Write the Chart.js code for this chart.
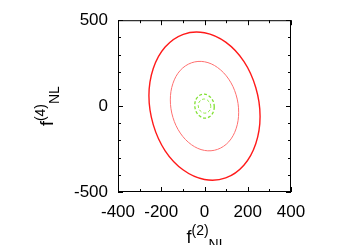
<!DOCTYPE html>
<html>
<head>
<meta charset="utf-8">
<script src="https://cdn.jsdelivr.net/npm/chart.js@4.4.0/dist/chart.umd.min.js"></script>
<style>
    html, body { margin: 0; padding: 0; background: #fff; }
</style>
</head>
<body>
<canvas id="contornos" width="350" height="245"></canvas>
<script>
// contornos: x = f(2)NL, y = f(4)NL
var externoX = [257, 237, 182, 98, 0, -98, -182, -237, -257, -237, -182, -98, 0, 98, 182, 237];
var externoY = [-60, 108, 260, 372, 427, 418, 344, 219, 60, -108, -260, -372, -427, -418, -344, -219];

var internoX = [158, 146, 112, 60, 0, -60, -112, -146, -158, -146, -112, -60, 0, 60, 112, 146];
var internoY = [-36, 66, 157, 225, 258, 252, 208, 132, 36, -66, -157, -225, -258, -252, -208, -132];

var verdeExtX = [45, 39, 22, 0, -22, -39, -45, -39, -22, 0, 22, 39];
var verdeExtY = [-5, 31, 58, 70, 63, 39, 5, -31, -58, -70, -63, -39];

var verdeIntX = [29, 25, 14, 0, -14, -25, -29, -25, -14, 0, 14, 25];
var verdeIntY = [-3, 18, 34, 41, 37, 23, 3, -18, -34, -41, -37, -23];

var ticksX = [-400, -200, 0, 200, 400];
var ticksY = [-500, 0, 500];

var fonte = '"Liberation Sans", Arial, sans-serif';

function pontos(xs, ys) {
    var p = [];
    for (var i = 0; i < xs.length; i++) {
        p.push({x: xs[i], y: ys[i]});
    }
    return p;
}

// fecha as curvas (como no radar) e desenha moldura, ticks internos e titulos
var molduraPlugin = {
    id: 'moldura',
    afterDatasetUpdate: function (chart, args) {
        var linha = args.meta.dataset;
        if (linha) {
            linha._loop = true;
            linha._fullLoop = true;
            delete linha._segments;
        }
    },
    afterDraw: function (chart) {
        var ctx = chart.ctx;
        var a = chart.chartArea;
        var sx = chart.scales.x, sy = chart.scales.y;
        ctx.save();
        ctx.strokeStyle = '#000';
        ctx.lineWidth = 1;
        ctx.strokeRect(a.left + 0.5, a.top + 0.5, a.right - a.left - 1, a.bottom - a.top - 1);

        ctx.beginPath();
        sx.ticks.forEach(function (t) {
            var px = Math.round(sx.getPixelForValue(t.value)) + 0.5;
            var len = ticksX.indexOf(t.value) >= 0 ? 5 : 3;
            ctx.moveTo(px, a.bottom); ctx.lineTo(px, a.bottom - len);
            ctx.moveTo(px, a.top); ctx.lineTo(px, a.top + len);
        });
        sy.ticks.forEach(function (t) {
            var py = Math.round(sy.getPixelForValue(t.value)) + 0.5;
            var len = ticksY.indexOf(t.value) >= 0 ? 5 : 3;
            ctx.moveTo(a.left, py); ctx.lineTo(a.left + len, py);
            ctx.moveTo(a.right, py); ctx.lineTo(a.right - len, py);
        });
        ctx.stroke();

        // titulos com sobrescrito e subscrito
        ctx.fillStyle = '#000';
        ctx.textBaseline = 'alphabetic';
        ctx.textAlign = 'left';
        function titulo(base, sup, sub) {
            ctx.font = '18px ' + fonte;
            var w1 = ctx.measureText(base).width;
            ctx.font = '14px ' + fonte;
            var w2 = ctx.measureText(sup).width;
            var w3 = ctx.measureText(sub).width;
            var x0 = -(w1 + w2 + w3) / 2;
            ctx.font = '18px ' + fonte;
            ctx.fillText(base, x0, 0);
            ctx.font = '14px ' + fonte;
            ctx.fillText(sup, x0 + w1, -8);
            ctx.fillText(sub, x0 + w1 + w2, 6);
        }
        ctx.save();
        ctx.translate((a.left + a.right) / 2 + 2, 243);
        titulo('f', '(2)', 'NL');
        ctx.restore();

        ctx.save();
        ctx.translate(53, (a.top + a.bottom) / 2);
        ctx.rotate(-Math.PI / 2);
        titulo('f', '(4)', 'NL');
        ctx.restore();
        ctx.restore();
    }
};

new Chart(document.getElementById('contornos'), {
    type: 'line',
    data: {
        datasets: [
            {
                data: pontos(externoX, externoY),
                borderColor: '#ff1a1a',
                borderWidth: 1.4
            }, {
                data: pontos(internoX, internoY),
                borderColor: '#ff7070',
                borderWidth: 1
            }, {
                data: pontos(verdeExtX, verdeExtY),
                borderColor: '#80e030',
                borderWidth: 1.3,
                borderDash: [3, 2]
            }, {
                data: pontos(verdeIntX, verdeIntY),
                borderColor: '#8ce840',
                borderWidth: 1,
                borderDash: [3, 2]
            }
        ]
    },
    options: {
        responsive: false,
        animation: false,
        devicePixelRatio: 1,
        layout: { padding: { top: 20, right: 59, left: 0, bottom: 0 } },
        elements: {
            point: { radius: 0 },
            line: { tension: 0.35, fill: false, capBezierPoints: false }
        },
        plugins: {
            legend: { display: false },
            tooltip: { enabled: false }
        },
        scales: {
            x: {
                type: 'linear',
                min: -400,
                max: 400,
                grid: { display: false, drawTicks: false },
                border: { display: false },
                afterFit: function (s) { s.height = 53; },
                ticks: {
                    stepSize: 100,
                    autoSkip: false,
                    maxRotation: 0,
                    padding: 10,
                    color: '#000',
                    font: { size: 17, family: fonte },
                    callback: function (v) { return ticksX.indexOf(v) >= 0 ? v : ''; }
                }
            },
            y: {
                type: 'linear',
                min: -500,
                max: 500,
                grid: { display: false, drawTicks: false },
                border: { display: false },
                afterFit: function (s) { s.width = 118; },
                ticks: {
                    stepSize: 100,
                    autoSkip: false,
                    padding: 10,
                    color: '#000',
                    font: { size: 17, family: fonte },
                    callback: function (v) { return ticksY.indexOf(v) >= 0 ? v : ''; }
                }
            }
        }
    },
    plugins: [molduraPlugin]
});
</script>
</body>
</html>
